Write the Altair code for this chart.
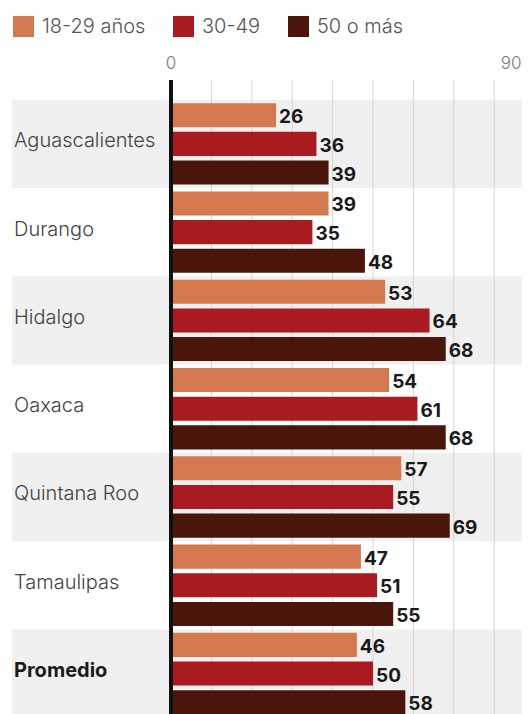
import altair as alt
import pandas as pd

states = ["Aguascalientes", "Durango", "Hidalgo", "Oaxaca", "Quintana Roo", "Tamaulipas", "Promedio"]
ages = ["18-29 años", "30-49", "50 o más"]
v_18_29 = [26, 39, 53, 54, 57, 47, 46]
v_30_49 = [36, 35, 64, 61, 55, 51, 50]
v_50_mas = [39, 48, 68, 68, 69, 55, 58]
colors = ["#d4784f", "#a91b21", "#4a150b"]
shaded = ["Aguascalientes", "Hidalgo", "Quintana Roo", "Promedio"]
grid_ticks = [10, 20, 30, 40, 50, 60, 70, 80, 90]
tick_low = [0]
tick_high = [90]

rows = []
for i, s in enumerate(states):
    for a, vals in zip(ages, [v_18_29, v_30_49, v_50_mas]):
        rows.append({"estado": s, "edad": a, "valor": vals[i]})
df = pd.DataFrame(rows)
bands = pd.DataFrame({"estado": shaded})
names = pd.DataFrame({"estado": states[:-1]})
prom = pd.DataFrame({"estado": states[-1:]})
zero = pd.DataFrame({"valor": [0]})
grid_df = pd.DataFrame({"valor": grid_ticks})

W, H = 351, 640
FONT = "Inter"
yscale = alt.Scale(domain=states, range=[19.7, 637.7], paddingInner=0, paddingOuter=0)
yoff_scale = alt.Scale(domain=ages, paddingInner=0.16, paddingOuter=0.12)
xscale = alt.Scale(domain=[0, 90], range=[0, 363.6], nice=False)

band_layer = alt.Chart(bands).mark_rect(color="#000000", opacity=0.06).encode(
    y=alt.Y("estado:N", scale=yscale, axis=None),
    x=alt.value(-159), x2=alt.value(360),
)

grid_layer = alt.Chart(grid_df).mark_rule(color="#d4d4d4", strokeWidth=1).encode(
    x=alt.X("valor:Q", scale=xscale, axis=None),
    y=alt.value(0), y2=alt.value(H),
)

tick_text_low = alt.Chart(pd.DataFrame({"valor": tick_low})).mark_text(
    align="center", baseline="middle", font=FONT, fontSize=17, fontWeight=300, color="#777777"
).encode(
    x=alt.X("valor:Q", scale=xscale, axis=None),
    y=alt.value(-16.5),
    text=alt.Text("valor:Q"),
)

tick_text_high = alt.Chart(pd.DataFrame({"valor": tick_high})).mark_text(
    align="right", baseline="middle", dx=-13, font=FONT, fontSize=17, fontWeight=300, color="#777777"
).encode(
    x=alt.X("valor:Q", scale=xscale, axis=None),
    y=alt.value(-16.5),
    text=alt.Text("valor:Q"),
)

bars = alt.Chart(df).mark_bar().encode(
    x=alt.X("valor:Q", scale=xscale, axis=None),
    y=alt.Y("estado:N", scale=yscale, axis=None),
    yOffset=alt.YOffset("edad:N", scale=yoff_scale),
    color=alt.Color("edad:N", scale=alt.Scale(domain=ages, range=colors),
                    legend=alt.Legend(orient="none", legendX=-158, legendY=-64, direction="horizontal",
                                      title=None, symbolType="square", symbolSize=441,
                                      symbolStrokeWidth=0, symbolOpacity=1,
                                      labelFont=FONT, labelFontSize=20, labelFontWeight=300,
                                      labelColor="#555555", labelOffset=8, columnPadding=27)),
)

zero_rule = alt.Chart(zero).mark_rule(color="#111111", strokeWidth=4).encode(
    x=alt.X("valor:Q", scale=xscale, axis=None),
    y=alt.value(0), y2=alt.value(H),
)

values = alt.Chart(df).mark_text(align="left", baseline="middle", dx=3, dy=2, font=FONT,
                                 fontSize=19, fontWeight="bold", color="#1a1a1a").encode(
    x=alt.X("valor:Q", scale=xscale, axis=None),
    y=alt.Y("estado:N", scale=yscale, axis=None),
    yOffset=alt.YOffset("edad:N", scale=yoff_scale),
    text=alt.Text("valor:Q"),
)

state_labels = alt.Chart(names).mark_text(align="left", baseline="middle", dy=-2.5, font=FONT,
                                          fontSize=20, fontWeight=300, color="#444444").encode(
    x=alt.value(-157),
    y=alt.Y("estado:N", scale=yscale, axis=None),
    text="estado:N",
)

prom_label = alt.Chart(prom).mark_text(align="left", baseline="middle", dy=-2.5, font=FONT,
                                       fontSize=20, fontWeight="bold", color="#1a1a1a").encode(
    x=alt.value(-157),
    y=alt.Y("estado:N", scale=yscale, axis=None),
    text="estado:N",
)

chart = alt.layer(band_layer, grid_layer, tick_text_low, tick_text_high, bars, values, zero_rule,
                  state_labels, prom_label).properties(
    width=W, height=H,
    autosize=alt.AutoSizeParams(type="none"),
    padding={"left": 163, "top": 72, "right": 0, "bottom": 0},
).configure_view(stroke=None)

chart.save("out.html", embed_options={"renderer": "svg", "actions": False})
